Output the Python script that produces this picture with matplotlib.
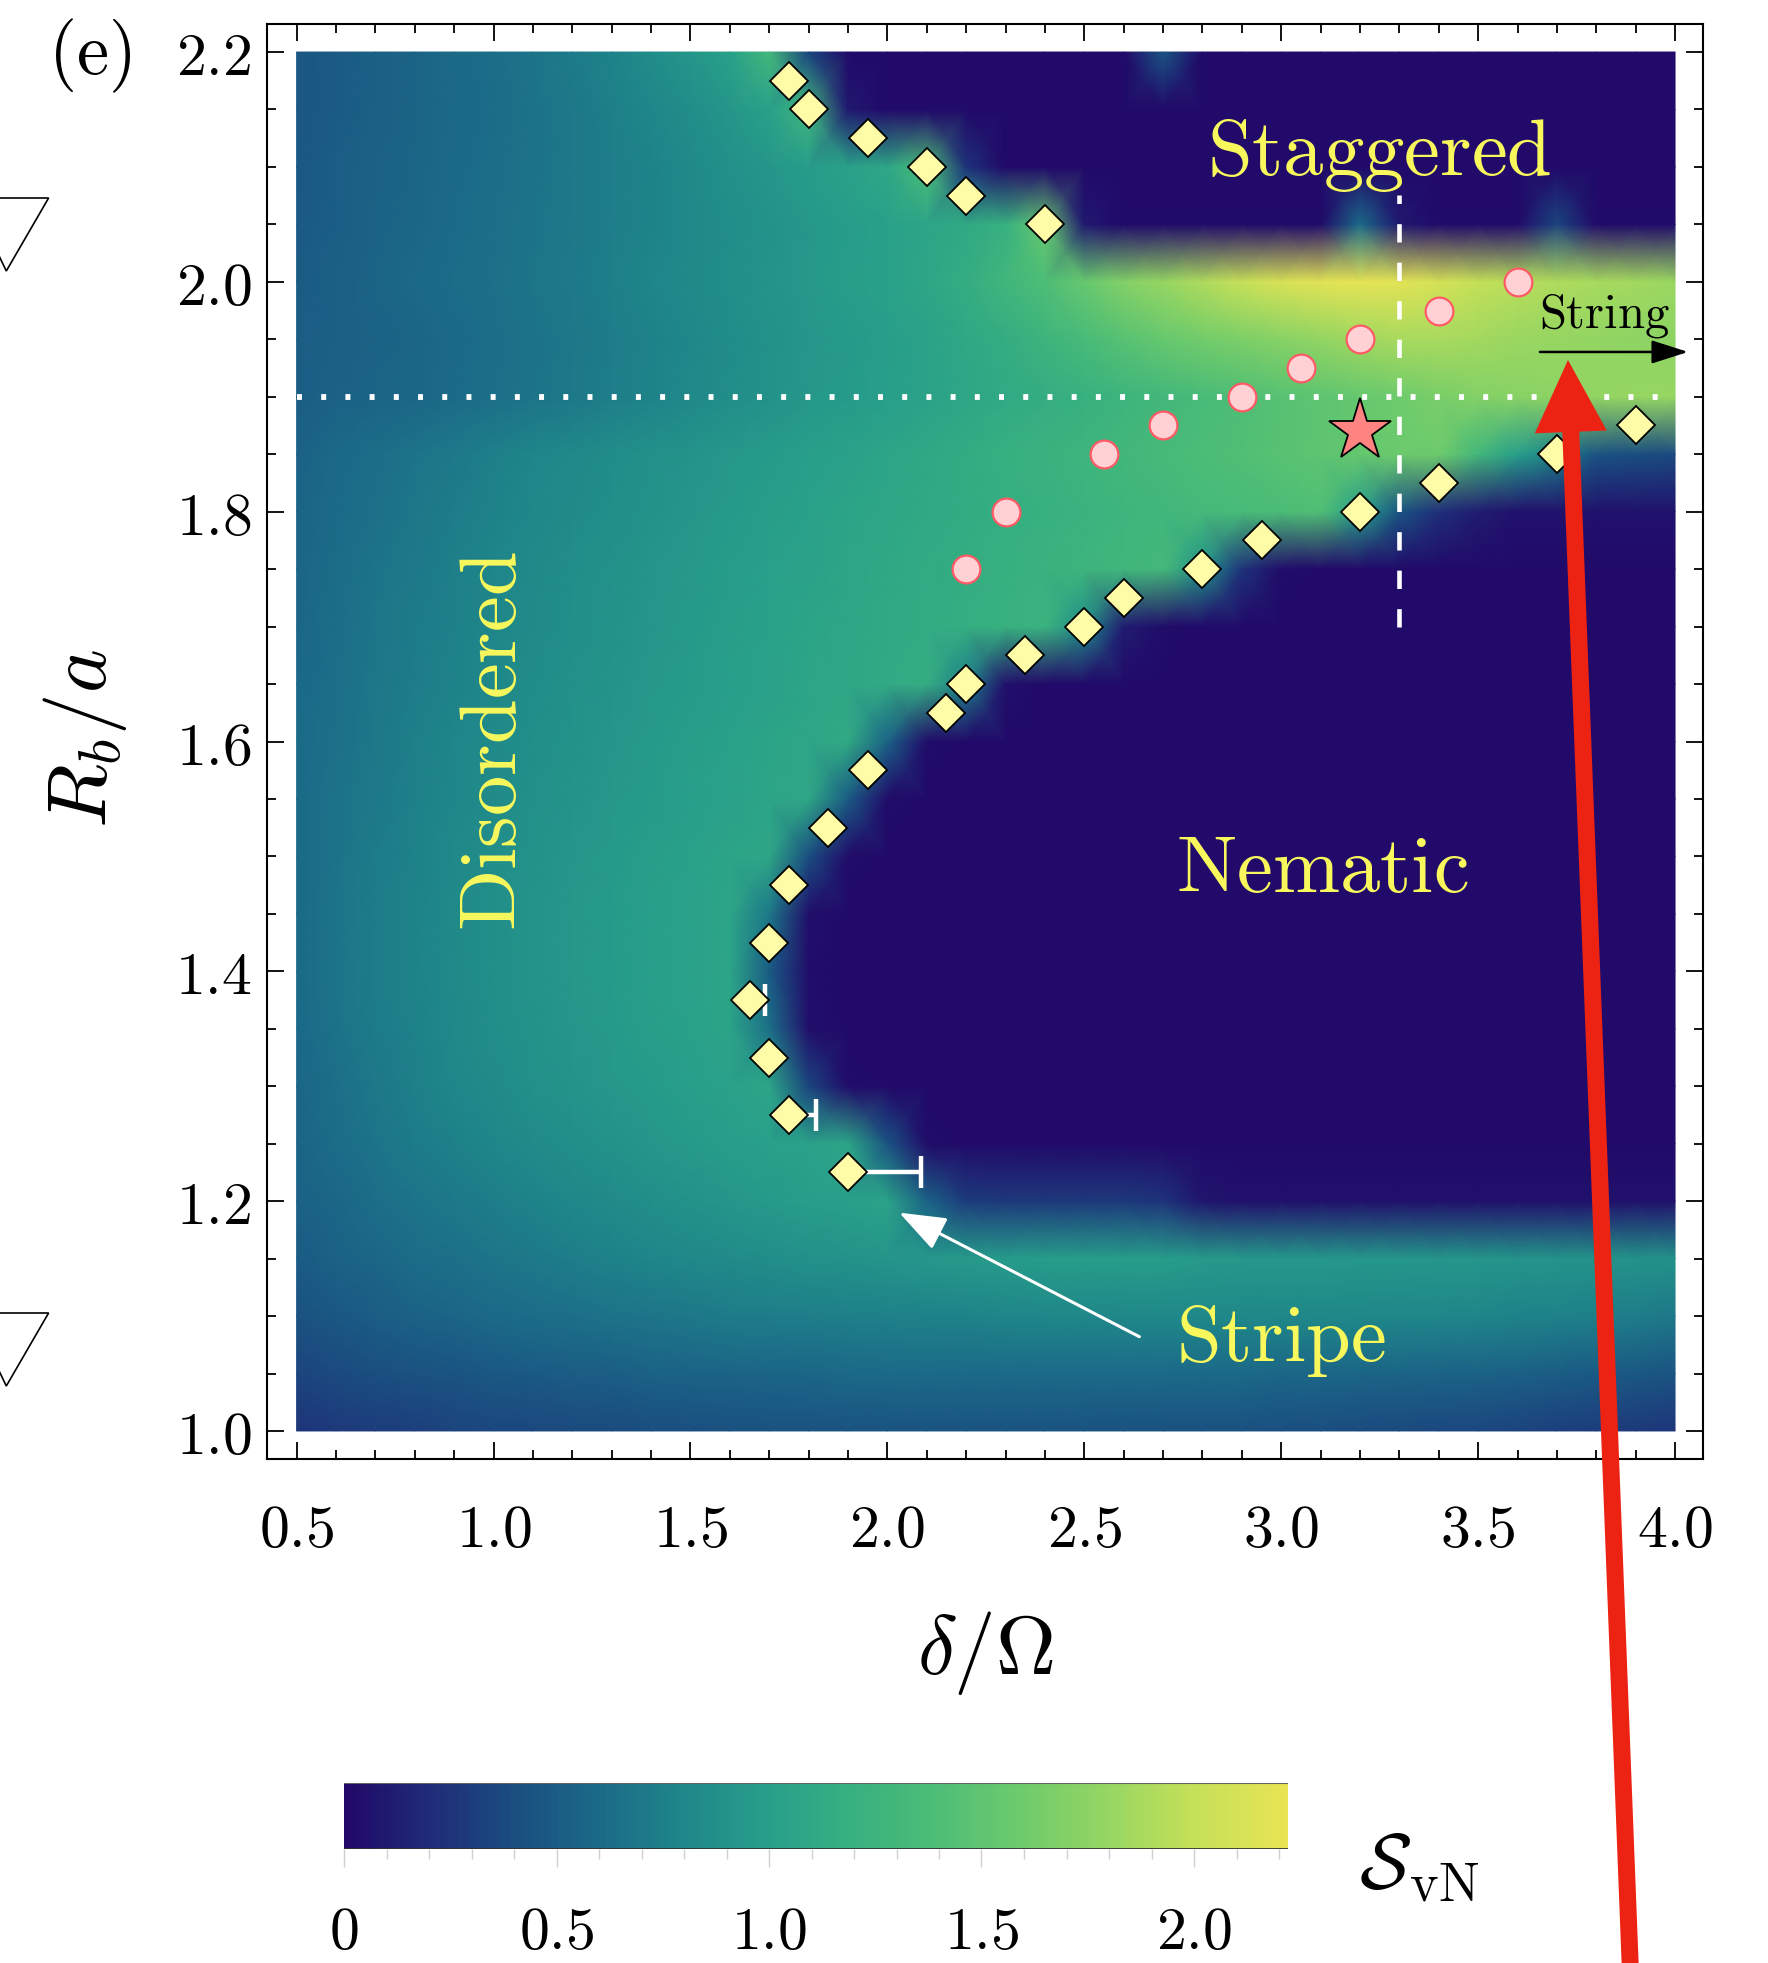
import numpy as np
import matplotlib
matplotlib.use('Agg')
import matplotlib.pyplot as plt
from matplotlib.colors import LinearSegmentedColormap
from matplotlib.patches import FancyArrow, Polygon
from matplotlib.transforms import IdentityTransform
from matplotlib.ticker import FixedLocator, MultipleLocator

plt.rcParams['mathtext.fontset'] = 'cm'
plt.rcParams['font.family'] = ['DejaVu Serif']

# ---------------- data ----------------
delta_grid = np.linspace(0.5, 4.0, 36)   # delta / Omega
rb_grid = np.linspace(1.0, 2.2, 25)      # R_b / a

z01 = [0.01]
S_rows = [
    [.26,.28,.30,.32,.34,.36,.37,.38,.39,.40,.41,.42,.43,.43,.44,.44,.44,.44,.44,.44,.44,.43,.43,.42,.42,.41,.40,.39,.38,.37,.36,.34,.32,.30,.28,.26],  # 1.00
    [.35,.38,.41,.43,.45,.47,.49,.51,.52,.54,.55,.56,.57,.58,.59,.60,.60,.60,.60,.60,.60,.60,.60,.59,.59,.58,.58,.57,.56,.55,.54,.53,.51,.49,.47,.45],  # 1.05
    [.43,.47,.51,.54,.57,.60,.62,.64,.66,.68,.70,.72,.73,.74,.75,.76,.77,.78,.79,.80,.80,.81,.81,.81,.81,.81,.81,.81,.80,.80,.79,.78,.77,.75,.73,.70],  # 1.10
    [.50,.54,.58,.62,.65,.68,.71,.74,.77,.79,.82,.84,.86,.88,.90,.92,.94,.96,.97,.98,.98,.98,.98,.96,.95,.94,.94,.93,.93,.92,.92,.91,.91,.90,.90,.89],  # 1.15
    [.54,.58,.63,.67,.71,.74,.78,.81,.84,.87,.90,.93,.96,.99,1.01,1.04,.55,.30,.28,.28,.28,.28,.25,.08] + [.06]*12,  # 1.20
    [.56,.62,.67,.72,.76,.80,.84,.87,.90,.93,.96,.99,1.01,1.03,1.06,.45,.03] + z01*19,  # 1.25
    [.58,.64,.70,.75,.80,.84,.88,.91,.94,.97,1.00,1.03,1.06,.35,.03] + z01*21,  # 1.30
    [.59,.66,.72,.77,.82,.86,.90,.93,.96,.99,1.02,1.05,.65,.05] + z01*22,  # 1.35
    [.60,.67,.73,.78,.83,.87,.91,.94,.97,1.00,1.03,1.06,.50,.03] + z01*22,  # 1.40
    [.60,.67,.73,.78,.83,.87,.91,.94,.97,1.00,1.03,1.06,.70,.05] + z01*22,  # 1.45
    [.60,.66,.72,.77,.82,.86,.90,.93,.96,.99,1.02,1.05,1.08,.40,.03] + z01*21,  # 1.50
    [.60,.66,.71,.76,.80,.84,.88,.91,.94,.97,1.00,1.03,1.06,1.09,.50,.03] + z01*20,  # 1.55
    [.60,.65,.70,.75,.79,.83,.87,.90,.93,.96,.99,1.02,1.05,1.08,1.11,.55,.03] + z01*19,  # 1.60
    [.59,.64,.69,.73,.77,.81,.85,.88,.91,.94,.97,1.00,1.03,1.06,1.09,1.12,1.16,.75,.05] + z01*17,  # 1.65
    [.58,.63,.68,.72,.76,.80,.84,.87,.90,.93,.96,.99,1.02,1.05,1.08,1.11,1.14,1.17,1.20,1.23,.85,.12,.03] + z01*13,  # 1.70
    [.57,.62,.67,.71,.75,.79,.83,.86,.89,.92,.95,.98,1.01,1.04,1.07,1.10,1.13,1.16,1.19,1.22,1.25,1.28,1.31,.90,.25,.03] + z01*10,  # 1.75
    [.56,.61,.65,.69,.73,.77,.81,.84,.87,.90,.93,.96,.99,1.02,1.05,1.08,1.11,1.14,1.17,1.20,1.23,1.26,1.29,1.32,1.35,1.38,1.41,1.00,.45,.22,.12] + [.06]*5,  # 1.80
    [.54,.59,.63,.67,.71,.75,.79,.82,.85,.88,.91,.94,.97,1.00,1.03,1.06,1.10,1.14,1.18,1.22,1.26,1.30,1.34,1.38,1.42,1.46,1.50,1.54,1.58,1.60,1.30,1.00,.75,.45,.40,.38],  # 1.85
    [.52,.54,.56,.58,.61,.64,.67,.70,.74,.78,.82,.86,.90,.94,.97,1.00,1.04,1.08,1.12,1.16,1.20,1.25,1.30,1.35,1.40,1.45,1.50,1.55,1.60,1.65,1.70,1.73,1.76,1.78,1.80,1.80],  # 1.90
    [.51,.53,.55,.57,.60,.63,.66,.69,.73,.77,.81,.85,.89,.93,.96,.99,1.04,1.10,1.16,1.25,1.35,1.45,1.55,1.62,1.67,1.72,1.78,1.84,1.88,1.88,1.85,1.82,1.80,1.78,1.76,1.75],  # 1.95
    [.50,.53,.56,.59,.62,.65,.68,.71,.75,.79,.83,.87,.91,.95,.99,1.02,1.08,1.16,1.28,1.40,1.55,1.70,1.80,1.90,2.02,2.12,2.18,2.20,2.18,2.10,2.00,1.95,1.90,1.87,1.85,1.82],  # 2.00
    [.49,.52,.55,.58,.61,.64,.67,.70,.74,.78,.82,.86,.90,.94,.98,1.02,1.06,1.11,1.20,1.55,.10,.02,.02,.02,.02,.02,.02,.60,.10,.02,.02,.02,.35,.02,.02,.02],  # 2.05
    [.48,.51,.54,.57,.60,.63,.66,.70,.74,.78,.83,.88,.93,.98,1.03,1.09,1.38,.25] + z01*18,  # 2.10
    [.47,.50,.53,.56,.59,.62,.66,.70,.75,.80,.86,.93,1.02,1.28,.10] + z01*21,  # 2.15
    [.46,.50,.53,.56,.60,.63,.67,.72,.78,.85,.92,1.02,1.30,.35,.02] + z01*7 + [.45] + z01*13,  # 2.20
]

# transition points (yellow diamonds)
diam_x = [1.90, 1.75, 1.70, 1.65, 1.70, 1.75, 1.85, 1.95, 2.15, 2.20, 2.35, 2.50, 2.60, 2.80, 2.95, 3.20, 3.40, 3.70, 3.90,
          1.75, 1.80, 1.95, 2.10, 2.20, 2.40]
diam_y = [1.225, 1.275, 1.325, 1.375, 1.425, 1.475, 1.525, 1.575, 1.625, 1.65, 1.675, 1.70, 1.725, 1.75, 1.775, 1.80, 1.825, 1.85, 1.875,
          2.175, 2.15, 2.125, 2.10, 2.075, 2.05]
# pink circles
circ_x = [2.20, 2.30, 2.55, 2.70, 2.90, 3.05, 3.20, 3.40, 3.60]
circ_y = [1.75, 1.80, 1.85, 1.875, 1.90, 1.925, 1.95, 1.975, 2.00]
# star
star_x = [3.20]
star_y = [1.87]
# error bars (right-sided)
err_x = [1.65, 1.75, 1.90]
err_y = [1.375, 1.275, 1.225]
err_plus = [0.04, 0.07, 0.185]

xticks = [0.5, 1.0, 1.5, 2.0, 2.5, 3.0, 3.5, 4.0]
yticks = [1.0, 1.2, 1.4, 1.6, 1.8, 2.0, 2.2]
cticks = [0, 0.5, 1.0, 1.5, 2.0]
ctick_labels = ['0', '0.5', '1.0', '1.5', '2.0']

# ---------------- colormap ----------------
anchors = [(0.00, '#210868'), (0.20, '#1f2c78'), (0.40, '#1a4e80'), (0.60, '#1b6a88'),
           (0.80, '#1f8789'), (1.00, '#289f8a'), (1.20, '#38b180'), (1.40, '#4ebe76'),
           (1.60, '#6ecb6c'), (1.80, '#96d662'), (2.00, '#c4e058'), (2.22, '#e8e454')]
vmax = 2.22
cmap = LinearSegmentedColormap.from_list('svn', [(v / vmax, c) for v, c in anchors])

W, H = 1768, 1963
fig = plt.figure(figsize=(W / 100, H / 100), dpi=100)
ax = fig.add_axes([267 / W, 1 - 1459 / H, (1703 - 267) / W, (1459 - 24) / H])

X, Y = np.meshgrid(delta_grid, rb_grid)
Z = np.array(S_rows)
mesh = ax.pcolormesh(X, Y, Z, shading='gouraud', cmap=cmap, vmin=0, vmax=vmax, zorder=1)

ax.set_xlim(0.4248, 4.071)
ax.set_ylim(0.9756, 2.2244)

yellow = '#f8f85c'
ax.plot([0.5, 4.0], [1.9, 1.9], color='white', lw=4.2, dashes=(0.85, 3.3), zorder=3)
ax.plot([3.3, 3.3], [1.70, 2.0755], color='white', lw=3.3, dashes=(4.0, 4.4), zorder=3)

ax.errorbar(err_x, err_y, xerr=[[0, 0, 0], err_plus], fmt='none', ecolor='white',
            elinewidth=3.2, capsize=11.5, capthick=3.2, zorder=4)
ax.plot(circ_x, circ_y, 'o', ms=20, mfc='#ffd1d5', mec='#ff5a66', mew=1.6, ls='none', zorder=5)
ax.plot(diam_x, diam_y, 'D', ms=19.5, mfc='#fffca8', mec='black', mew=1.3, ls='none', zorder=5)
ax.plot(star_x, star_y, '*', ms=47, mfc='#fe8482', mec='black', mew=1.3, ls='none', zorder=6)

ax.text(3.25, 2.093, r'$\mathrm{Staggered}$', color=yellow, fontsize=58, ha='center', va='baseline', zorder=7)
ax.text(3.104, 1.469, r'$\mathrm{Nematic}$', color=yellow, fontsize=58, ha='center', va='baseline', zorder=7)
ax.text(3.0, 1.061, r'$\mathrm{Stripe}$', color=yellow, fontsize=58, ha='center', va='baseline', zorder=7)
ax.text(1.0, 1.60, r'$\mathrm{Disordered}$', color=yellow, fontsize=58, ha='center', va='center',
        rotation=90, zorder=7)
ax.text(3.822, 1.96, r'$\mathrm{String}$', color='black', fontsize=35, ha='center', va='baseline', zorder=7)

ax.annotate('', xy=(4.033, 1.939), xytext=(3.657, 1.939),
            arrowprops=dict(arrowstyle='-|>,head_length=0.75,head_width=0.24', color='black', lw=1.8,
                            mutation_scale=30, shrinkA=0, shrinkB=0), annotation_clip=False, zorder=7)
ax.annotate('', xy=(2.03, 1.19), xytext=(2.64, 1.082),
            arrowprops=dict(arrowstyle='-|>,head_length=0.8,head_width=0.3', color='white', lw=2.2,
                            mutation_scale=36, shrinkA=0, shrinkB=0), zorder=7)

# ticks
ax.xaxis.set_major_locator(FixedLocator(xticks))
ax.xaxis.set_minor_locator(MultipleLocator(0.1))
ax.yaxis.set_major_locator(FixedLocator(yticks))
ax.yaxis.set_minor_locator(MultipleLocator(0.05))
ax.set_xticklabels([f'${v:.1f}$' for v in xticks])
ax.set_yticklabels([f'${v:.1f}$' for v in yticks])
ax.tick_params(which='both', direction='in', top=True, right=True, width=1.3)
ax.tick_params(which='major', length=12, labelsize=43)
ax.tick_params(which='minor', length=6.5)
ax.tick_params(axis='x', which='major', pad=30)
ax.tick_params(axis='y', which='major', pad=11)
for s in ax.spines.values():
    s.set_linewidth(1.5)

# labels
fig.text(90 / W, 1 - 56 / H, r'$\mathrm{(e)}$', fontsize=52, ha='center', va='center')
fig.text(986 / W, 1 - 1653 / H, r'$\delta/\Omega$', fontsize=60, ha='center', va='center')
fig.text(85 / W, 1 - 739 / H, r'$R_b/a$', fontsize=60, rotation=90, ha='center', va='center')

# colorbar
cax = fig.add_axes([344 / W, 1 - 1849 / H, (1287.5 - 344) / W, (1849 - 1783) / H])
cb = fig.colorbar(mesh, cax=cax, orientation='horizontal')
cb.set_ticks(cticks)
cb.set_ticklabels([f'${t}$' for t in ctick_labels])
cb.minorticks_on()
cax.tick_params(which='both', direction='out', color='#d0d0d0', width=1.0, labelsize=43)
cax.tick_params(which='major', length=13, pad=26)
cax.tick_params(which='minor', length=7)
cb.outline.set_visible(False)
cax.axhline(0.0, color='#333333', lw=2.0)
cax.axhline(1.0, color='#666666', lw=1.5)
fig.text(1419 / W, 1 - 1866 / H, r'$\mathcal{S}_{\mathrm{vN}}$', fontsize=56, ha='center', va='center')

# fragments of neighbouring panel (triangles at left edge)
for off in (0, 1115):
    tri = Polygon([(-28.6, H - 198 - off), (48.6, H - 198 - off), (6.3, H - 271 - off)], closed=True,
                  fill=False, edgecolor='black', lw=1.2, transform=IdentityTransform())
    fig.add_artist(tri)

# big red arrow overlay
arr = FancyArrow(1630.5, -10, 1568 - 1630.5, (H - 360) + 10, width=17, head_width=72, head_length=72,
                 length_includes_head=True, color='#ec2312', lw=0, transform=IdentityTransform(), zorder=20)
fig.add_artist(arr)

fig.savefig('out.png', dpi=100)
